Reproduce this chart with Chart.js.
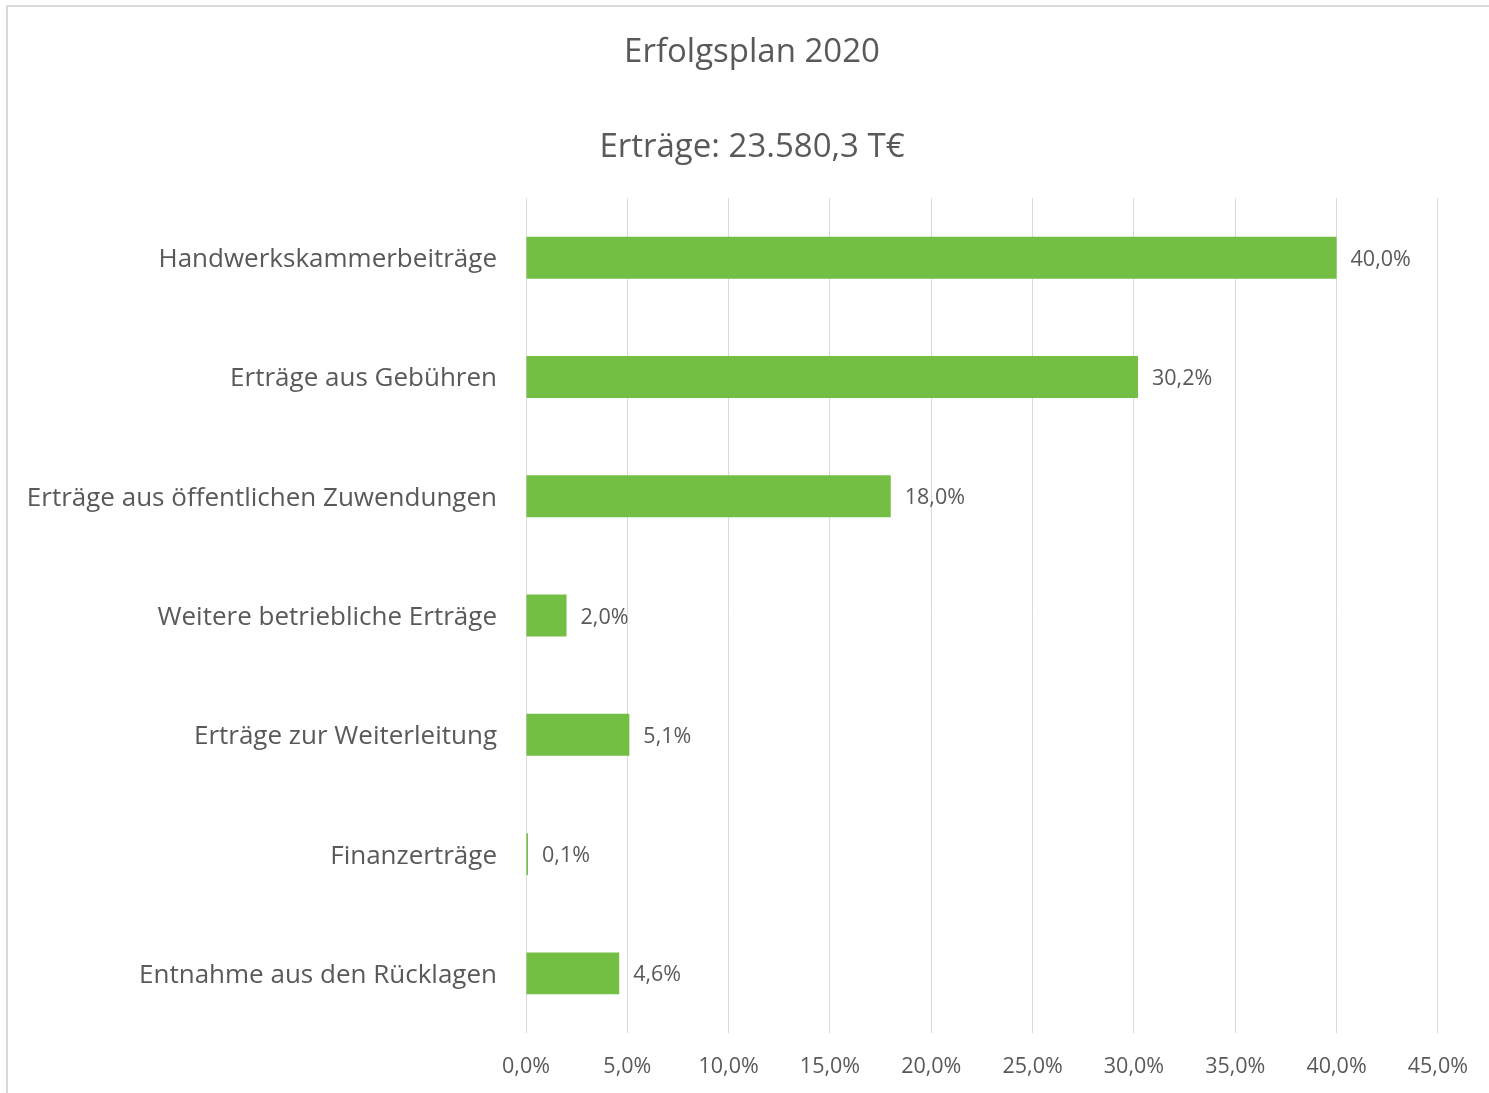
<!DOCTYPE html>
<html>
<head>
<meta charset="utf-8">
<script src="https://cdn.jsdelivr.net/npm/chart.js@4/dist/chart.umd.min.js"></script>
<style>
  html, body { margin: 0; padding: 0; background: #ffffff; }
  #wrap { position: relative; width: 1489px; height: 1093px; overflow: hidden; }
  #frame { position: absolute; left: 6px; top: 5px; right: -10px; bottom: -10px;
           border-top: 2px solid #d9d9d9; border-left: 2px solid #d9d9d9; pointer-events: none; }
  canvas { position: absolute; left: 0; top: 0; }
</style>
</head>
<body>
<div id="wrap">
  <canvas id="c" width="1489" height="1093"></canvas>
  <div id="frame"></div>
</div>
<script>
const titleText = "Erfolgsplan 2020";
const subtitleText = "Erträge: 23.580,3 T€";
const categories = [
  "Handwerkskammerbeiträge",
  "Erträge aus Gebühren",
  "Erträge aus öffentlichen Zuwendungen",
  "Weitere betriebliche Erträge",
  "Erträge zur Weiterleitung",
  "Finanzerträge",
  "Entnahme aus den Rücklagen"
];
const shares = [40.0, 30.2, 18.0, 2.0, 5.1, 0.1, 4.6];
const xTickMin = 0;
const xTickMax = 45;
const xTickStep = 5;

const FONT = "'Open Sans', 'Noto Sans', sans-serif";
const TEXT = "#595959";
const fmt = v => Number(v).toFixed(1).replace('.', ',') + '%';

const valueLabels = {
  id: 'valueLabels',
  afterDatasetsDraw(chart) {
    const ctx = chart.ctx;
    ctx.save();
    ctx.font = "21.5px " + FONT;
    ctx.fillStyle = TEXT;
    ctx.textAlign = 'left';
    ctx.textBaseline = 'middle';
    chart.getDatasetMeta(0).data.forEach((bar, i) => {
      ctx.fillText(fmt(shares[i]), bar.x + 14, bar.y + 2);
    });
    ctx.restore();
  }
};

new Chart(document.getElementById('c'), {
  type: 'bar',
  data: {
    labels: categories,
    datasets: [{
      data: shares,
      backgroundColor: '#73bf44',
      borderWidth: 0,
      barPercentage: 0.352,
      categoryPercentage: 1.0
    }]
  },
  options: {
    indexAxis: 'y',
    responsive: false,
    animation: false,
    devicePixelRatio: 1,
    layout: { padding: { left: 15, right: 0, top: 0, bottom: 0 } },
    plugins: {
      legend: { display: false },
      tooltip: { enabled: false },
      title: {
        display: true,
        text: titleText,
        color: TEXT,
        font: { family: FONT, size: 33, weight: 'normal', lineHeight: 1.2 },
        padding: { top: 33, bottom: 55 }
      },
      subtitle: {
        display: true,
        text: subtitleText,
        color: TEXT,
        font: { family: FONT, size: 33, weight: 'normal', lineHeight: 1.2 },
        padding: { top: 0, bottom: 31 }
      }
    },
    scales: {
      x: {
        min: xTickMin,
        max: xTickMax,
        border: { display: false },
        grid: { color: '#d9d9d9', lineWidth: 1, drawTicks: false },
        ticks: {
          stepSize: xTickStep,
          color: TEXT,
          padding: 21,
          font: { family: FONT, size: 21.5 },
          callback: v => fmt(v)
        },
        afterFit(scale) { scale.height = 60; }
      },
      y: {
        border: { display: false },
        grid: { display: false, drawTicks: false },
        ticks: {
          color: TEXT,
          padding: 29,
          labelOffset: 2,
          font: { family: FONT, size: 26 }
        },
        afterFit(scale) { scale.width = 511; }
      },
      yRight: {
        type: 'category',
        position: 'right',
        display: true,
        border: { display: false },
        grid: { display: false, drawTicks: false },
        ticks: { display: false },
        afterFit(scale) { scale.width = 51; }
      }
    }
  },
  plugins: [valueLabels]
});
</script>
</body>
</html>
